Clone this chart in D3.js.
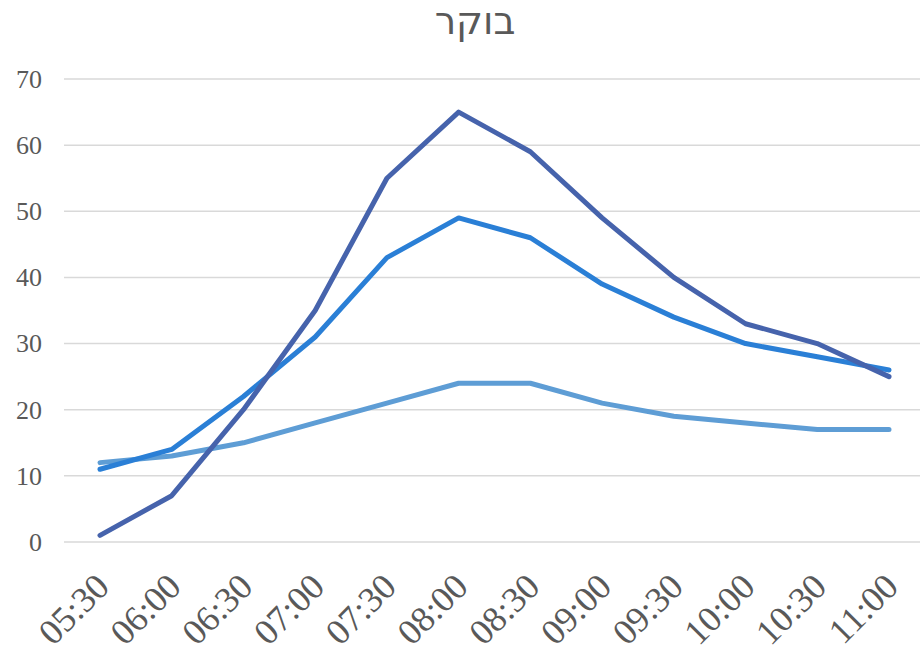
<!DOCTYPE html>
<html>
<head>
<meta charset="utf-8">
<script src="https://cdn.jsdelivr.net/npm/d3@7"></script>
<style>
  body { margin: 0; background: #fff; }
  svg { display: block; }
</style>
</head>
<body>
<div id="chart"></div>
<script>
// DATA
let times = ["05:30","06:00","06:30","07:00","07:30","08:00","08:30","09:00","09:30","10:00","10:30","11:00"];
let seriesDark  = [1, 7, 20, 35, 55, 65, 59, 49, 40, 33, 30, 25];
let seriesMid   = [11, 14, 22, 31, 43, 49, 46, 39, 34, 30, 28, 26];
let seriesLight = [12, 13, 15, 18, 21, 24, 24, 21, 19, 18, 17, 17];
let yTicks = [0, 10, 20, 30, 40, 50, 60, 70];
let title = "בוקר";

//GENERAL VARIABLE INITIALIZATION
let w = 921;
let h = 660;
let gridLeft = 64;
let gridRight = 920;
let serifFont = "'Liberation Serif', 'DejaVu Serif', serif";

let svg = d3.select("#chart").append("svg")
    .attr("width", w)
    .attr("height", h);

let xScale = d3.scalePoint()
    .domain(times)
    .range([100, 889]);

let yScale = d3.scaleLinear()
    .domain([0, 70])
    .range([542, 79]);

//TITLE
svg.append("text")
    .attr("x", 475)
    .attr("y", 34)
    .attr("text-anchor", "middle")
    .attr("font-family", "'DejaVu Sans', 'Liberation Sans', sans-serif")
    .attr("font-size", 38)
    .attr("fill", "#595959")
    .text(title);

//GRIDLINES
svg.append("g")
    .selectAll("line")
    .data(yTicks)
    .enter()
    .append("line")
    .attr("x1", gridLeft)
    .attr("x2", gridRight)
    .attr("y1", d => yScale(d))
    .attr("y2", d => yScale(d))
    .attr("stroke", "#d9d9d9")
    .attr("stroke-width", 1.5);

//Y AXIS
let yAxis = d3.axisLeft(yScale)
    .tickValues(yTicks)
    .tickSize(0)
    .tickPadding(0);

let yG = svg.append("g")
    .attr("transform", "translate(42,0)")
    .call(yAxis);
yG.select(".domain").remove();
yG.selectAll("text")
    .attr("font-family", serifFont)
    .attr("font-size", 26)
    .attr("fill", "#595959");

//X AXIS
let xAxis = d3.axisBottom(xScale)
    .tickSize(0)
    .tickPadding(0);

let xG = svg.append("g")
    .attr("transform", "translate(0,571)")
    .call(xAxis);
xG.select(".domain").remove();
xG.selectAll("text")
    .attr("font-family", serifFont)
    .attr("font-size", 36)
    .attr("fill", "#595959")
    .attr("text-anchor", "end")
    .attr("dy", "0.7em")
    .attr("transform", "translate(-7,0) rotate(-45)");

//LINES
let line = d3.line()
    .x((d, i) => xScale(times[i]))
    .y(d => yScale(d));

let series = [
  {values: seriesLight, color: "#5e9dd5"},
  {values: seriesMid, color: "#2a7fd6"},
  {values: seriesDark, color: "#4663ac"}
];

svg.append("g")
    .selectAll("path")
    .data(series)
    .enter()
    .append("path")
    .attr("d", d => line(d.values))
    .attr("fill", "none")
    .attr("stroke", d => d.color)
    .attr("stroke-width", 5)
    .attr("stroke-linecap", "round")
    .attr("stroke-linejoin", "round");
</script>
</body>
</html>
